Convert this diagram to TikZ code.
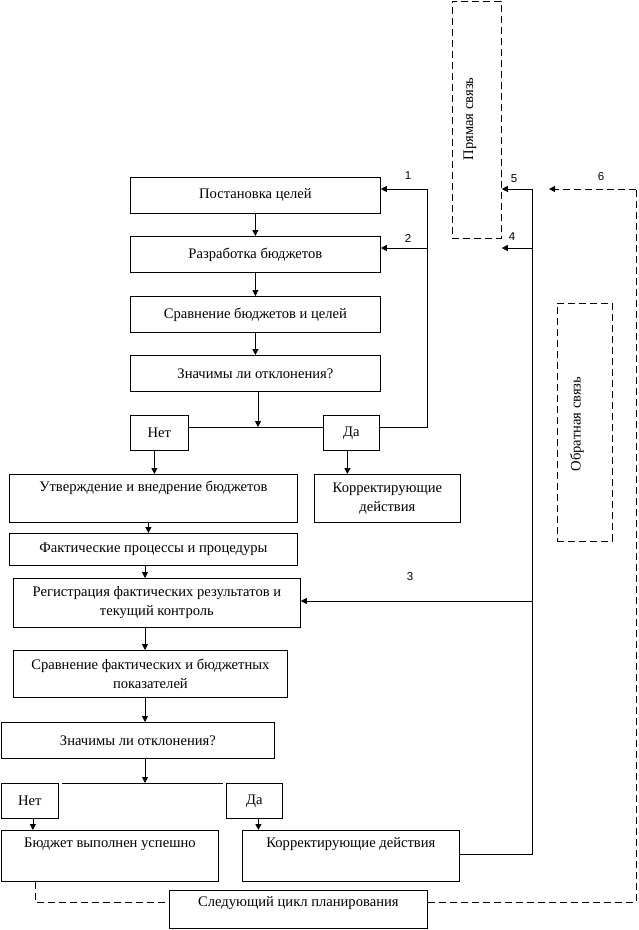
\documentclass[tikz,border=0pt]{standalone}
\usepackage{fontspec}
\setmainfont{Liberation Serif}
\newfontfamily\numfont{Liberation Sans}
\usetikzlibrary{arrows.meta}
\begin{document}
\begin{tikzpicture}[x=1pt,y=-1pt,
  box/.style={draw, line width=0.8pt, inner sep=0pt, anchor=north west, align=center, font=\fontsize{14.6}{19}\selectfont},
  dbox/.style={draw, line width=0.8pt, dash pattern=on 7pt off 4pt, inner sep=0pt, anchor=north west},
  lbl/.style={font=\fontsize{14.6}{19}\selectfont, inner sep=0pt},
  num/.style={font=\numfont\fontsize{11.5}{13}\selectfont, inner sep=0pt},
  ln/.style={line width=0.8pt},
  arr/.style={line width=0.8pt, -{Triangle[length=6pt,width=6pt]}},
  dsh/.style={line width=0.8pt, dash pattern=on 7pt off 4pt}
]
\useasboundingbox (0,0) rectangle (638,930);
\fill[white] (0,0) rectangle (638,930);

% upper block
\node[box, minimum width=250pt, minimum height=36pt] (b1) at (130,177) {Постановка целей};
\node[box, minimum width=250pt, minimum height=36pt] (b2) at (130,236) {Разработка бюджетов};
\node[box, minimum width=250pt, minimum height=36pt] (b3) at (130,296) {Сравнение бюджетов и целей};
\node[box, minimum width=250pt, minimum height=36pt] (b4) at (130,355) {Значимы ли отклонения?};
\node[box, minimum width=58pt, minimum height=35pt] (net1) at (130,415) {Нет};
\node[box, minimum width=56pt, minimum height=35pt] (da1) at (323,415) {Да};
\node[box, minimum width=288pt, minimum height=48pt,
  label={[lbl,anchor=center,yshift=-14pt]north:Утверждение и внедрение бюджетов}] (b5) at (9,474) {};
\node[box, minimum width=146pt, minimum height=48pt] (k1) at (314,474) {Корректирующие\\действия};
\node[box, minimum width=288pt, minimum height=32pt] (b6) at (9,533) {Фактические процессы и процедуры};
\node[box, minimum width=287pt, minimum height=49pt] (b7) at (13,578) {Регистрация фактических результатов и\\текущий контроль};
\node[box, minimum width=274pt, minimum height=47pt] (b8) at (13,650) {Сравнение фактических и бюджетных\\показателей};
\node[box, minimum width=273pt, minimum height=36pt] (b9) at (1,722) {Значимы ли отклонения?};
\node[box, minimum width=57pt, minimum height=35pt] (net2) at (1,783) {Нет};
\node[box, minimum width=56pt, minimum height=35pt] (da2) at (226,783) {Да};
\node[box, minimum width=217pt, minimum height=51pt,
  label={[lbl,anchor=center,yshift=-14pt]north:Бюджет выполнен успешно}] (b10) at (1,830) {};
\node[box, minimum width=217pt, minimum height=51pt,
  label={[lbl,anchor=center,yshift=-14pt]north:Корректирующие действия}] (k2) at (242,830) {};
\node[box, minimum width=258pt, minimum height=38pt,
  label={[lbl,anchor=center,yshift=-13pt]north:Следующий цикл планирования}] (next) at (169,890) {};

% dashed side boxes
\node[dbox, minimum width=49pt, minimum height=237pt] (pr) at (452,1) {};
\node[lbl, rotate=90] (prt) at (470,119) {Прямая связь};
\node[dbox, minimum width=55pt, minimum height=238pt] (ob) at (557,303) {};
\node[lbl, rotate=90] (obt) at (577,424) {Обратная связь};

% coordinates
\coordinate (j1) at (258,427);
\coordinate (f0) at (427,427);
\coordinate (f1) at (427,189);
\coordinate (f2) at (427,248);
\coordinate (colA) at (145,0);
\coordinate (j2) at (145,783);
\coordinate (gk) at (532,854);
\coordinate (g5) at (532,189);
\coordinate (g4) at (532,248);
\coordinate (g3) at (532,601);
\coordinate (h6) at (636,189);
\coordinate (h6e) at (549,189);
\coordinate (hb) at (636,902);
\coordinate (hl) at (35,902);

% upper connectors
\draw[arr] (b1.south) -- (b2.north);
\draw[arr] (b2.south) -- (b3.north);
\draw[arr] (b3.south) -- (b4.north);
\draw[arr] (b4.south -| j1) -- (j1);
\draw[ln] (net1.east |- j1) -- (da1.west |- j1);
\draw[ln] (da1.east |- f0) -- (f0) -- (f1);
\draw[arr] (f1) -- (b1.east |- f1);
\draw[arr] (f2) -- (b2.east |- f2);
\draw[arr] ([xshift=-5pt]net1.south) -- ([xshift=-5pt]net1.south |- b5.north);
\draw[arr] ([xshift=-4pt]da1.south) -- ([xshift=-4pt]da1.south |- k1.north);
\draw[arr] ([xshift=-5pt]b5.south) -- ([xshift=-5pt]b5.south |- b6.north);
\draw[arr] (b6.south -| colA) -- (b7.north -| colA);
\draw[arr] (b7.south -| colA) -- (b8.north -| colA);
\draw[arr] (b8.south -| colA) -- (b9.north -| colA);
\draw[arr] (b9.south -| colA) -- (j2);
\draw[ln] ([xshift=3pt]net2.north east) -- ([xshift=-3pt]da2.north west);
\draw[arr] ([xshift=3pt]net2.south) -- ([xshift=3pt]net2.south |- b10.north);
\draw[arr] ([xshift=4pt]da2.south) -- ([xshift=4pt]da2.south |- k2.north);

% feedback lines
\draw[ln] (k2.east |- gk) -- (gk) -- (g5);
\draw[arr] (g5) -- (pr.east |- g5);
\draw[arr] (g4) -- (pr.east |- g4);
\draw[arr] (g3) -- (b7.east |- g3);
\draw[dsh] (next.east |- hb) -- (hb) -- (h6);
\draw[dsh, -{Triangle[length=6pt,width=6pt]}] (h6) -- (h6e);
\draw[dsh] (hl |- b10.south) -- (hl) -- (next.west |- hl);

% numbers
\node[num] (n1) at (408,176) {1};
\node[num] (n2) at (408,238) {2};
\node[num] (n3) at (410,577) {3};
\node[num] (n4) at (512,237) {4};
\node[num] (n5) at (514,179) {5};
\node[num] (n6) at (601,177) {6};
\end{tikzpicture}
\end{document}
